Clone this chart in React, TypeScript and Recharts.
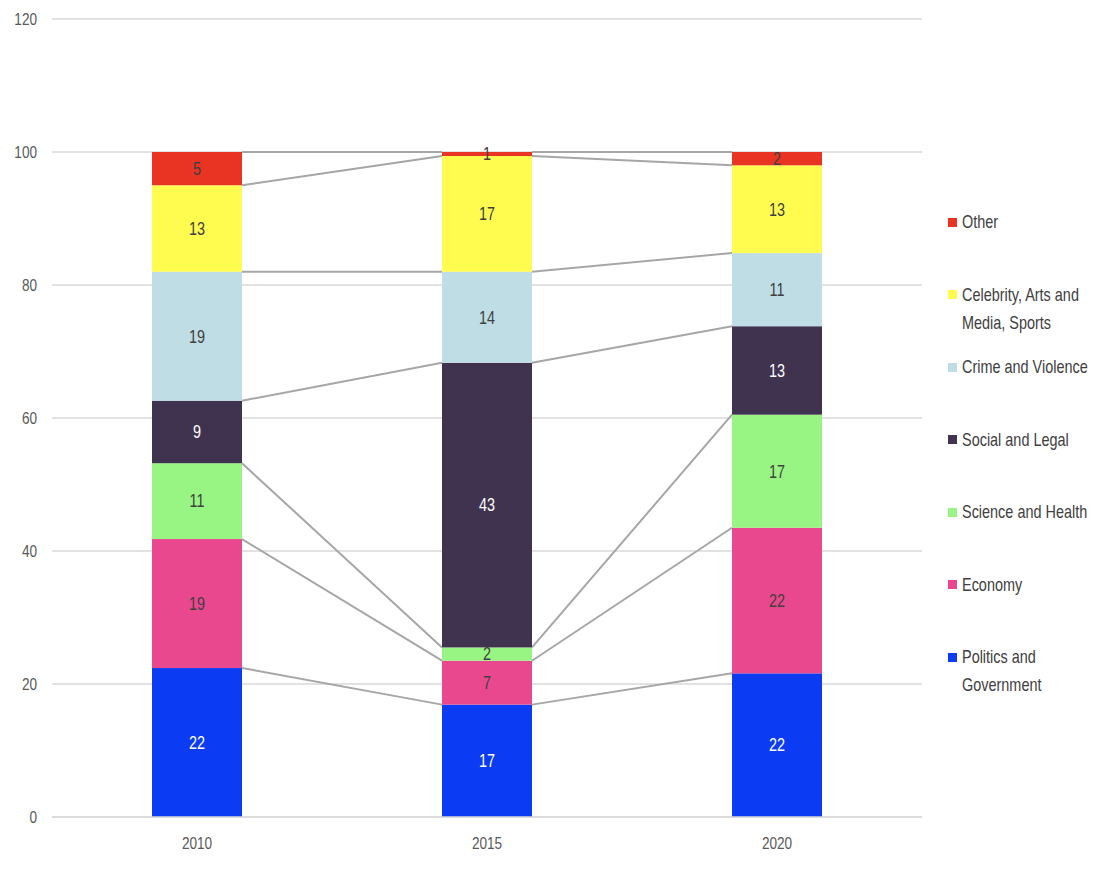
import { BarChart, Bar, XAxis, YAxis, CartesianGrid, LabelList } from "recharts"

const YEARS = ["2010", "2015", "2020"]
const POLITICS = [22.4, 16.9, 21.6]
const ECONOMY = [19.4, 6.6, 21.9]
const SCIENCE = [11.4, 2.0, 17.0]
const SOCIAL = [9.4, 42.8, 13.3]
const CRIME = [19.4, 13.7, 11.0]
const CELEBRITY = [13.0, 17.4, 13.2]
const OTHER = [5.0, 0.6, 2.0]
const Y_TICKS = [0, 20, 40, 60, 80, 100, 120]

const SERIES = [
  { key: "politics", name: ["Politics and", "Government"], values: POLITICS, color: "#0B3CF3", text: "#FFFFFF" },
  { key: "economy", name: ["Economy"], values: ECONOMY, color: "#EA488E", text: "#404040" },
  { key: "science", name: ["Science and Health"], values: SCIENCE, color: "#99F583", text: "#404040" },
  { key: "social", name: ["Social and Legal"], values: SOCIAL, color: "#3F3350", text: "#FFFFFF" },
  { key: "crime", name: ["Crime and Violence"], values: CRIME, color: "#BFDDE5", text: "#404040" },
  { key: "celebrity", name: ["Celebrity, Arts and", "Media, Sports"], values: CELEBRITY, color: "#FFFB4F", text: "#404040" },
  { key: "other", name: ["Other"], values: OTHER, color: "#E93423", text: "#404040" },
]

const data = YEARS.map((year, i) => {
  const row: Record<string, any> = { year }
  SERIES.forEach((s) => (row[s.key] = s.values[i]))
  return row
})

// cumulative top of every segment, used for the connector lines
const TOPS = SERIES.map((_, s) =>
  YEARS.map((_, i) => SERIES.slice(0, s + 1).reduce((sum, ser) => sum + ser.values[i], 0))
)

const FONT = "'Liberation Sans', Arial, sans-serif"
const SQUEEZE = 0.8 // the reference font is a narrow one
const LEGEND_SQUEEZE = 0.76
const WIDTH = 1091
const HEIGHT = 861
const MARGIN = { top: 11, right: 177, bottom: 0, left: 0 }
const Y_AXIS_WIDTH = 44
const PITCH = (WIDTH - MARGIN.left - MARGIN.right - Y_AXIS_WIDTH) / YEARS.length

const makeShape = (s: number) => (props: any) => {
  const { x, y, width, height, index, fill } = props
  const v = SERIES[s].values[index]
  const ppu = v ? height / v : 0
  const next = index < YEARS.length - 1
  const ny = next ? y + (TOPS[s][index] - TOPS[s][index + 1]) * ppu : 0
  return (
    <g>
      <rect x={x} y={y} width={width} height={height} fill={fill} />
      {next && (
        <line x1={x + width} y1={y} x2={x + PITCH} y2={ny} stroke="#A6A6A6" strokeWidth={2} />
      )}
    </g>
  )
}

const YTick = (props: any) => {
  const { x, y, payload } = props
  return (
    <g transform={`translate(${x},${y}) scale(${SQUEEZE},1)`}>
      <text textAnchor="end" dy="0.35em" fill="#595959" fontSize={17} fontFamily={FONT}>
        {payload.value}
      </text>
    </g>
  )
}

const XTick = (props: any) => {
  const { x, y, payload } = props
  return (
    <g transform={`translate(${x},${y}) scale(${SQUEEZE},1)`}>
      <text textAnchor="middle" dy="0.71em" fill="#595959" fontSize={17} fontFamily={FONT}>
        {payload.value}
      </text>
    </g>
  )
}

const makeLabel = (color: string) => (props: any) => {
  const { x, y, width, height, value } = props
  const v = Array.isArray(value) ? value[1] - value[0] : Number(value)
  return (
    <g transform={`translate(${x + width / 2},${y + height / 2}) scale(${SQUEEZE},1)`}>
      <text textAnchor="middle" dy="0.35em" fill={color} fontSize={18} fontFamily={FONT}>
        {Math.round(v)}
      </text>
    </g>
  )
}

const Legend = () => (
  <div style={{ position: "absolute", left: 940, top: 0, fontFamily: FONT, fontSize: 19, color: "#404040" }}>
    {[...SERIES].reverse().map((s, k) => (
      <div key={s.key} style={{ position: "absolute", left: 0, top: 222 - 8 - 14 + 72.5 * k, lineHeight: "28px" }}>
        <div style={{ position: "absolute", left: 0, top: 9.5, width: 9, height: 9, background: s.color }} />
        <div
          style={{
            position: "absolute",
            left: 14,
            top: 0,
            whiteSpace: "nowrap",
            transform: `scaleX(${LEGEND_SQUEEZE})`,
            transformOrigin: "left top",
          }}
        >
          {s.name.map((line) => (
            <div key={line}>{line}</div>
          ))}
        </div>
      </div>
    ))}
  </div>
)

export default function App() {
  return (
    <div style={{ position: "relative", width: WIDTH, height: HEIGHT }}>
      <div style={{ position: "absolute", left: -5, top: -8, width: 1.5, height: 869, background: "#D9D9D9" }} />
      <BarChart width={WIDTH} height={HEIGHT} data={data} margin={MARGIN}>
        <CartesianGrid vertical={false} stroke="#D9D9D9" strokeWidth={1.5} />
        <XAxis
          dataKey="year"
          height={52}
          axisLine={{ stroke: "#D9D9D9", strokeWidth: 1.5 }}
          tickLine={false}
          tickMargin={14}
          tick={<XTick />}
        />
        <YAxis
          width={Y_AXIS_WIDTH}
          domain={[0, 120]}
          ticks={Y_TICKS}
          axisLine={false}
          tickLine={false}
          tickMargin={9}
          tick={<YTick />}
        />
        {SERIES.map((s, i) => (
          <Bar
            key={s.key}
            dataKey={s.key}
            stackId="a"
            fill={s.color}
            barSize={90}
            shape={makeShape(i)}
            isAnimationActive={false}
          >
            <LabelList dataKey={s.key} position="center" content={makeLabel(s.text)} />
          </Bar>
        ))}
      </BarChart>
      <Legend />
    </div>
  )
}
